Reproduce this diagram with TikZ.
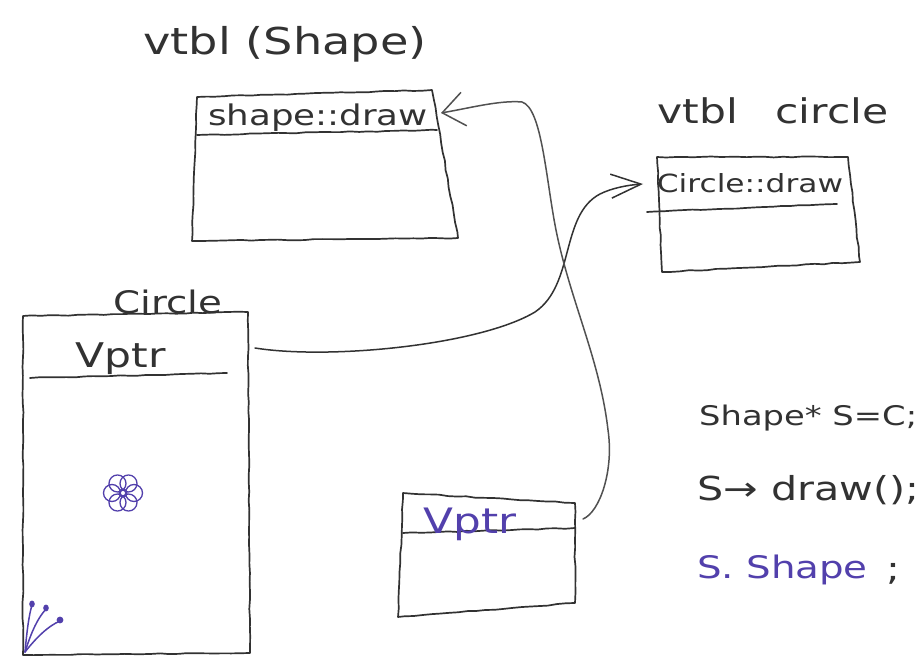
\documentclass[tikz,border=0pt]{standalone}
\usepackage{fontspec}
\setmainfont[FakeStretch=1.25]{DejaVu Sans}
\usetikzlibrary{arrows.meta,decorations.pathmorphing}
\definecolor{ink}{RGB}{50,50,50}
\definecolor{pen}{RGB}{82,64,172}
\begin{document}
\begin{tikzpicture}[x=1pt,y=-1pt,
  sketch/.style={draw=ink,line width=1.7pt,line join=round,line cap=round,
    decorate,decoration={random steps,segment length=9pt,amplitude=0.5pt}},
  wire/.style={draw=ink,line width=1.5pt,line cap=round},
  txt/.style={text=ink,inner sep=0pt},
  purpletxt/.style={text=pen,inner sep=0pt},
  fs/.style={font=\fontsize{#1}{#1}\selectfont}]
\pgfmathsetseed{7}
\useasboundingbox[fill=white] (0,0) rectangle (924,661);

% ---- vtable of Shape ----
\node[txt,fs=37,anchor=base] (shapeTitle) at (285,55) {vtbl (Shape)};
\draw[sketch] (197,97) -- (432,90) -- (458,238) -- (192,241) -- cycle;
\draw[sketch] (197,135) -- (437,130);
\node[txt,fs=28.5,anchor=base] (shapeDraw) at (318,125) {shape::draw};
\coordinate (shapeSlot) at (441,113);

% ---- vtable of Circle ----
\node[txt,fs=34,anchor=base] (circleTitle) at (773,124) {vtbl\hspace{1.1em}circle};
\draw[sketch] (657,157) -- (848,157) -- (860,262) -- (662,272) -- cycle;
\draw[sketch] (647,212) -- (837,204);
\node[txt,fs=25,anchor=base] (circleDraw) at (750,192) {Circle::draw};
\coordinate (circleSlot) at (643,184);

% ---- Circle object ----
\node[txt,fs=31,anchor=base] (objLabel) at (168,313) {Circle};
\draw[sketch] (23,316) -- (248,312) -- (250,653) -- (23,655) -- cycle;
\draw[sketch] (30,378) -- (227,373);
\node[txt,fs=34,anchor=base] (objVptr) at (121,367) {Vptr};
\coordinate (objOut) at (255,348);

% flower doodle
\begin{scope}[pen,line width=1.3pt]
  \foreach \a in {0,60,...,300}
    \draw (123,493) ++(\a:11) circle (8.5);
  \draw (123,493) circle (4);
\end{scope}
% sprout doodle
\begin{scope}[pen,line width=1.5pt,line cap=round]
  \coordinate (root) at (25,652);
  \draw (root) .. controls (27,630) and (29,615) .. (32,605);
  \draw (root) .. controls (32,630) and (38,618) .. (46,609);
  \draw (root) .. controls (36,638) and (48,626) .. (60,621);
  \fill (32,604) ellipse (2.8 and 3.4);
  \fill (46,608) ellipse (2.8 and 3.4);
  \fill (60,620) circle (3.4);
\end{scope}

% ---- pointer object ----
\draw[sketch] (403,493) -- (575,503) -- (575,603) -- (398,617) -- cycle;
\draw[sketch] (403,533) -- (575,528);
\node[purpletxt,fs=35,anchor=base] (ptrVptr) at (470,533) {Vptr};
\coordinate (ptrOut) at (583,519);

% ---- connectors ----
\draw[wire,-{Straight Barb[length=30pt,width=24pt,line width=1.5pt]}]
  (objOut) .. controls (330,360) and (480,345) .. (535,312)
  .. controls (575,285) and (560,215) .. (600,194)
  .. controls (612,188) and (628,185) .. (circleSlot);
\draw[wire,draw=ink!85,-{Straight Barb[length=22pt,width=34pt,line width=1.5pt]}]
  (ptrOut) .. controls (600,512) and (614,470) .. (608,430)
  .. controls (600,360) and (570,300) .. (556,230)
  .. controls (546,180) and (542,108) .. (522,102)
  .. controls (500,100) and (470,108) .. (shapeSlot);

% ---- code ----
\node[txt,fs=27,anchor=base west] (code1) at (699,425) {Shape* S=C;};
\node[txt,fs=33,anchor=base west] (code2) at (697,500) {S→ draw();};
\node[purpletxt,fs=31,anchor=base west] (code3) at (697,578) {S. Shape};
\node[txt,fs=33,anchor=base west] (code3end) at (886,580) {;};
\end{tikzpicture}
\end{document}
